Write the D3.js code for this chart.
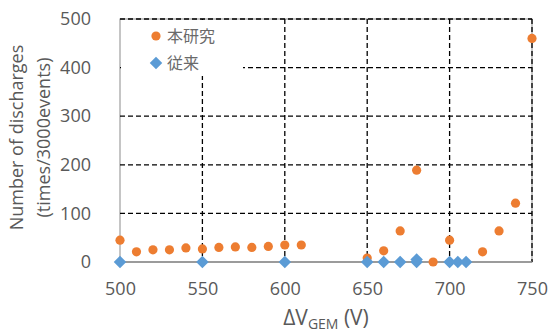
<!DOCTYPE html>
<html>
<head>
<meta charset="utf-8">
<script src="https://cdn.jsdelivr.net/npm/d3@7"></script>
<style>
  body { margin: 0; background: #fff; }
  text { font-family: "Open Sans", "Noto Sans", sans-serif; fill: #595959; }
</style>
</head>
<body>
<svg id="chart"></svg>
<script>
// 本研究 (this study)
let oursV = [500, 510, 520, 530, 540, 550, 560, 570, 580, 590, 600, 610, 650, 660, 670, 680, 690, 700, 720, 730, 740, 750];
let oursN = [45, 21, 25, 25, 29, 27, 30, 31, 30, 32, 35, 35, 8, 23, 64, 189, 0, 45, 21, 64, 121, 460];
// 従来 (conventional)
let convV = [500, 550, 600, 650, 660, 670, 680, 680, 700, 705, 710];
let convN = [0, 0, 0, 0, 0, 0, 0, 5, 0, 0, 0];

let xTicks = [500, 550, 600, 650, 700, 750];
let yTicks = [0, 100, 200, 300, 400, 500];
let legendNames = ["本研究", "従来"];

const width = 552;
const height = 336;
let margin = { top: 19, right: 20, bottom: 74, left: 120 };
let plotWidth = width - margin.left - margin.right;
let plotHeight = height - margin.top - margin.bottom;

let svg = d3.select("svg#chart").attr("width", width).attr("height", height);

let x = d3.scaleLinear().domain([500, 750]).range([0, plotWidth]);
let y = d3.scaleLinear().domain([0, 500]).range([plotHeight, 0]);

let plot = svg.append("g").attr("transform", "translate(" + margin.left + "," + margin.top + ")");

// frame
plot.append("rect")
  .attr("width", plotWidth).attr("height", plotHeight)
  .attr("fill", "none").attr("stroke", "#8c8c8c").attr("stroke-width", 1);

// dashed grid
plot.selectAll("line.hgrid").data(yTicks.filter(d => d > 0)).enter().append("line")
  .attr("x1", 0).attr("x2", plotWidth)
  .attr("y1", d => y(d)).attr("y2", d => y(d))
  .attr("stroke", "#000").attr("stroke-width", 1.3).attr("stroke-dasharray", "5,3");
plot.selectAll("line.vgrid").data(xTicks.filter(d => d > 500)).enter().append("line")
  .attr("y1", 0).attr("y2", plotHeight)
  .attr("x1", d => x(d)).attr("x2", d => x(d))
  .attr("stroke", "#000").attr("stroke-width", 1.3).attr("stroke-dasharray", "5,3");

// bottom axis line
plot.append("line").attr("x1", 0).attr("x2", plotWidth)
  .attr("y1", y(0)).attr("y2", y(0)).attr("stroke", "#8c8c8c").attr("stroke-width", 1.3);

// axes (labels only)
let xAxis = d3.axisBottom(x).tickValues(xTicks).tickSize(0).tickPadding(20).tickFormat(d3.format("d"));
let yAxis = d3.axisLeft(y).tickValues(yTicks).tickSize(0).tickPadding(29).tickFormat(d3.format("d"));
let xGroup = plot.append("g").attr("transform", "translate(0," + plotHeight + ")").call(xAxis);
let yGroup = plot.append("g").call(yAxis);
[xGroup, yGroup].forEach(g => {
  g.select(".domain").remove();
  g.selectAll("text").attr("font-size", 18).attr("font-family", "Open Sans").attr("fill", "#595959");
});

// legend box hides grid behind it
plot.append("rect").attr("x", 1).attr("y", 1).attr("width", 122).attr("height", 56).attr("fill", "#fff");

// series
let orange = "#ED7D31";
let blue = "#5B9BD5";

plot.selectAll("circle.ours").data(oursV.map((v, i) => [v, oursN[i]])).enter().append("circle")
  .attr("cx", d => x(d[0])).attr("cy", d => y(d[1])).attr("r", 4.6).attr("fill", orange);

let diamond = d3.symbol().type(d3.symbolDiamond2).size(100);
plot.selectAll("path.conv").data(convV.map((v, i) => [v, convN[i]])).enter().append("path")
  .attr("d", diamond)
  .attr("transform", d => "translate(" + x(d[0]) + "," + y(d[1]) + ")")
  .attr("fill", blue);

// legend
let legend = plot.append("g").attr("transform", "translate(36,17)");
legend.append("circle").attr("cx", 0).attr("cy", 0).attr("r", 4.6).attr("fill", orange);
legend.append("path").attr("d", diamond).attr("transform", "translate(0,27)").attr("fill", blue);
legend.selectAll("text").data(legendNames).enter().append("text")
  .attr("x", 11).attr("y", (d, i) => i * 27)
  .attr("dy", "0.35em")
  .attr("font-size", 16)
  .style("font-family", "'Noto Sans CJK JP', sans-serif")
  .style("fill", "#6a6a6a")
  .text(d => d);

// axis titles
let yTitle = svg.append("text")
  .attr("transform", "translate(0," + (margin.top + plotHeight / 2 - 3) + ") rotate(-90)")
  .attr("text-anchor", "middle").attr("font-size", 18);
yTitle.append("tspan").attr("x", 0).attr("y", 23).text("Number of discharges");
yTitle.append("tspan").attr("x", 0).attr("y", 50).text("(times/3000events)");

let xTitle = svg.append("text")
  .attr("x", 326).attr("y", 325)
  .attr("text-anchor", "middle").attr("font-size", 21);
xTitle.append("tspan").text("ΔV");
xTitle.append("tspan").attr("font-size", 14).attr("dy", 4).text("GEM");
xTitle.append("tspan").attr("dy", -4).text(" (V)");
</script>
</body>
</html>
